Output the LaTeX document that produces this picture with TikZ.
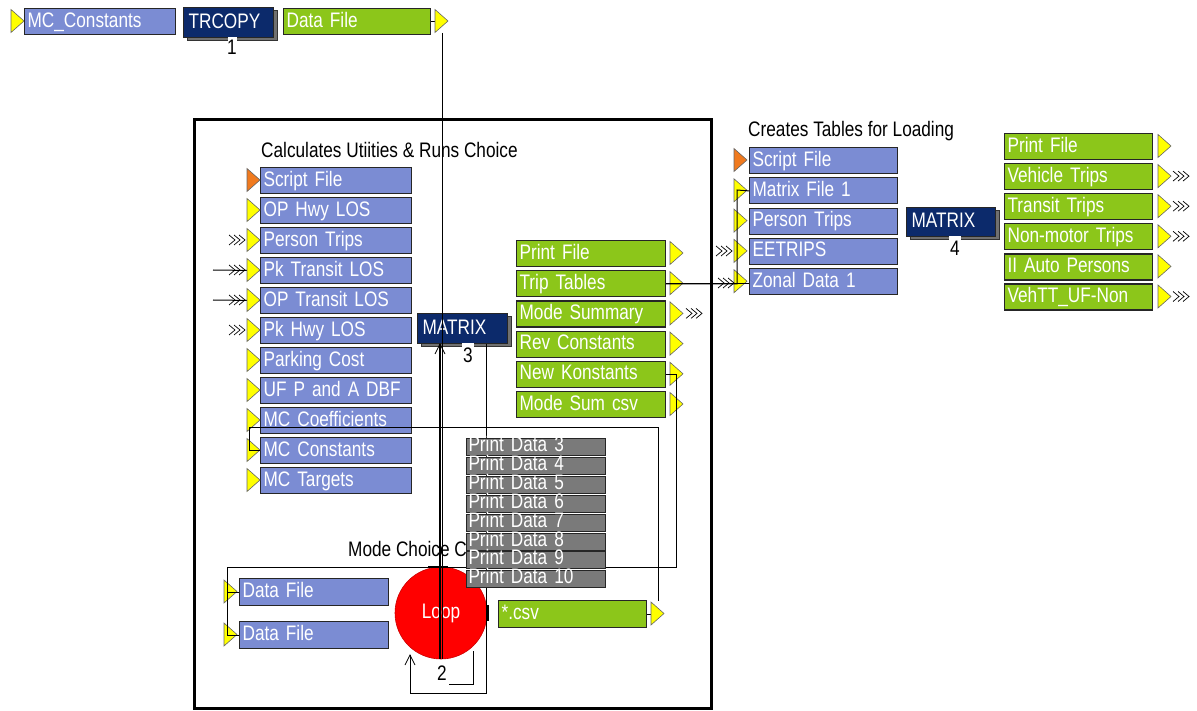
\documentclass[tikz,border=0pt]{standalone}
\usepackage{fontspec}
\setmainfont{Liberation Sans}[FakeStretch=0.82]
\usetikzlibrary{calc}
\definecolor{inblue}{HTML}{7B8CD3}
\definecolor{outgreen}{HTML}{8CC61A}
\definecolor{navy}{HTML}{0C2A6B}
\definecolor{shade}{HTML}{707070}
\definecolor{prgray}{HTML}{7A7A7A}
\definecolor{portorange}{HTML}{F07A1E}
\definecolor{portyellow}{HTML}{FFFF00}
\newcommand{\boxfont}{\fontsize{21}{23}\selectfont}
\begin{document}
\begin{tikzpicture}[x=1pt,y=-1pt,
  every node/.style={font=\boxfont},
  wire/.style={draw=black, line width=1pt},
  blk/.style={rectangle, draw=black!85, line width=1.2pt, anchor=north west, text=white,
    inner xsep=3pt, inner ysep=0pt, align=left, text height=15pt, text depth=4pt},
  inbox/.style={blk, fill=inblue, minimum height=26pt, text width=#1},
  inbox/.default=145pt,
  outbox/.style={blk, fill=outgreen, minimum height=26pt, text width=#1},
  outbox/.default=143pt,
  procbox/.style={blk, fill=navy, minimum height=30pt, minimum width=90pt},
  shadowbox/.style={fill=shade, draw=black!80, line width=1pt},
  prbox/.style={blk, fill=prgray, minimum height=17pt, text width=135pt, inner xsep=2pt,
    line width=1pt, text height=11pt, text depth=2pt},
  title/.style={anchor=west, inner sep=0pt, text=black},
  numlabel/.style={inner sep=0pt, text=black},
  pics/port/.style={code={\filldraw[fill=#1, draw=black!60, line width=0.6pt]
    (0,-11.5) -- (13,0) -- (0,11.5) -- cycle;}},
  pics/chev/.style={code={\foreach \k in {0,5,10}{\draw[line width=0.7pt] (\k,-5) -- (\k+6,0) -- (\k,5);}}},
  pics/upchev/.style={code={\draw[line width=0.8pt] (-5,10) -- (0,0) -- (5,10);}},
]
\useasboundingbox (0,0) rectangle (1197,711);

% ---- top row: constants copy step ----
\pic at (11,21) {port=portyellow};
\node[inbox] (mcc) at (24,8) {MC\_Constants};
\draw[shadowbox] (187,11) rectangle (277,41);
\node[procbox, text width=80pt, inner xsep=4pt] (trcopy) at (183,7) {TRCOPY};
\fill[white] (228,37) rectangle (237,42);
\node[numlabel] (n1) at (232,47) {1};
\node[outbox=141pt] (df0) at (283,8) {Data File};
\draw[wire] (df0.east) -- ++(6,0);
\pic at (435,21) {port=portyellow};
\coordinate (df0out) at (442,33);

% ---- mode choice loop group ----
\node[draw, line width=3pt, minimum width=517pt, minimum height=589pt, anchor=north west, inner sep=0pt] (grp) at (193,118) {};
\node[title] (t1) at (261,150) {Calculates Utiities \& Runs Choice};
\foreach \t [count=\i] in {Script File, OP Hwy LOS, Person Trips, Pk Transit LOS, OP Transit LOS, Pk Hwy LOS, Parking Cost, UF P and A DBF, MC Coefficients, MC Constants, MC Targets}
  \node[inbox] (l\i) at (260,{167+30*(\i-1)}) {\t};
\coordinate (src4) at (213,270);
\coordinate (src5) at (213,300);
\draw[wire] (src4) -- (l4.west);
\draw[wire] (src5) -- (l5.west);
\pic at (247,180) {port=portorange};
\foreach \i in {2,...,11} \pic at (247,{180+30*(\i-1)}) {port=portyellow};
\foreach \i in {3,4,5,6} \pic at (229,{180+30*(\i-1)}) {chev};

% MATRIX step 3
\draw[shadowbox] (421,317) rectangle (511,347);
\node[procbox, text width=80pt, inner xsep=5pt] (m3) at (417,313) {MATRIX};
\fill[white] (462,343) rectangle (474,348);
\node[numlabel] (n3) at (468,355) {3};
\foreach \t [count=\i] in {Print File, Trip Tables, Mode Summary, Rev Constants, New Konstants, Mode Sum csv}
  \node[outbox] (o\i) at (516,{240+30.2*(\i-1)}) {\t};
\foreach \i in {1,...,6} \pic at (670,{253+30.2*(\i-1)}) {port=portyellow};
\pic at (686,313.4) {chev};

% loop inputs and csv output
\node[inbox=143pt, minimum height=27pt] (d1) at (239,578) {Data File};
\node[inbox=143pt, minimum height=27pt] (d2) at (239,621) {Data File};
\pic at (224,591.5) {port=portyellow};
\pic at (224,634.5) {port=portyellow};
\node[outbox=142pt, minimum height=27pt] (csv) at (498,600) {*.csv};
\draw[wire] (csv.east) -- ++(6,0);
\pic at (651,613.5) {port=portyellow};

\node[title] (t3) at (348,549) {Mode Choice C};

% loop control
\node[circle, fill=red, draw=red!80!black, line width=0.6pt, minimum size=92pt, inner sep=0pt, text=white] (loop) at (441,613) {Loop};
\fill (486,605) rectangle (489,621);
\fill (428,565.5) rectangle (448,568);
\node[numlabel] (n2) at (442,673) {2};
\draw[line width=1pt] (449,684) -- (473,684) -- (473,651);

% ---- table building step ----
\node[title] (t2) at (748,131) {Creates Tables for Loading};
\foreach \t [count=\i] in {Script File, Matrix File 1, Person Trips, EETRIPS, Zonal Data 1}
  \node[inbox=142pt] (r\i) at (749,{147+30.3*(\i-1)}) {\t};
\pic at (734,160) {port=portorange};
\foreach \i in {2,...,5} \pic at (734,{160+30.3*(\i-1)}) {port=portyellow};
\pic at (716,251) {chev};
\draw[shadowbox] (910,211) rectangle (999,240);
\node[procbox, minimum width=89pt, minimum height=29pt, text width=79pt, inner xsep=5pt] (m4) at (906,207) {MATRIX};
\fill[white] (949,236) rectangle (961,241);
\node[numlabel] (n4) at (955,248) {4};
\foreach \t [count=\i] in {Print File, Vehicle Trips, Transit Trips, Non-motor Trips, II Auto Persons, VehTT\_UF-Non}
  \node[outbox=142pt] (q\i) at (1004,{133+30.1*(\i-1)}) {\t};
\foreach \i in {1,...,6} \pic at (1158,{146+30.1*(\i-1)}) {port=portyellow};
\foreach \i in {2,3,4,6} \pic at (1173,{146+30.1*(\i-1)}) {chev};

% ---- connectors ----
\coordinate (m3in) at (440,344);
\coordinate (m3out) at (486,344);
\coordinate (loopin) at (410,655);
\coordinate (lb) at (410,693);
\draw[wire] (df0out) -- (df0out |- loop.south);
\draw[wire, line width=1.3pt] (m3in) -- (m3in |- loop.south);
\pic at (m3in) {upchev};
\draw[wire] (m3out) |- (lb) -- (loopin);
\pic at (loopin) {upchev};

\coordinate (bus4) at (737,190);
\draw[wire] (o2.east) -| (bus4) -- (r2.west);
\draw[wire] (o2.east) -- (o2.east -| r5.west);
\pic at (718,283) {chev};

\coordinate (csvout) at (658,601);
\coordinate (cb) at (249,427);
\draw[wire] (csvout) |- (cb) |- (l10.west);

\coordinate (nkb) at (676,567);
\coordinate (dfb) at (227,567);
\draw[wire] (o5.east) -| (nkb) -- (dfb) |- (d2.west);
\draw[wire] (dfb |- d1.west) -- (d1.west);

% print data outputs of the loop
\foreach \i in {3,...,10}
  \node[prbox] (p\i) at (466,{438+18.9*(\i-3)}) {Print Data \i};
\end{tikzpicture}
\end{document}
